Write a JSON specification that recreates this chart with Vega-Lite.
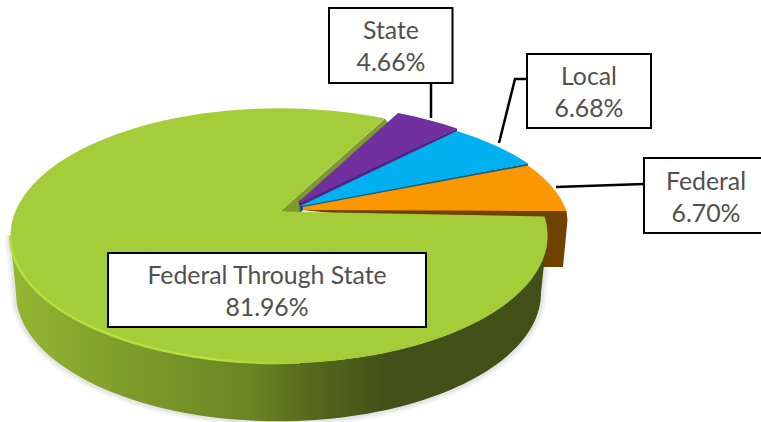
{"$schema":"https://vega.github.io/schema/vega-lite/v6.json","width":761,"height":422,"padding":0,"autosize":"none","background":"white","view":{"stroke":null},"data":{"values":[{"slice":"Federal Through State","share":81.96,"label":"Federal Through State\n81.96%"},{"slice":"State","share":4.66,"label":"State\n4.66%"},{"slice":"Local","share":6.68,"label":"Local\n6.68%"},{"slice":"Federal","share":6.70,"label":"Federal\n6.70%"}]},"resolve":{"scale":{"shape":"independent","fill":"independent"}},"layer":[
{"transform":[{"filter":"datum.slice==='Federal Through State'"}],"mark":{"type":"point","filled":true,"fill":"#000","stroke":"#000","strokeWidth":11,"opacity":0.04,"size":4},"encoding":{"shape":{"value":"M-370.5,24.5A268.5,127.5 0 0 0 166.5,24.5L160.5,82A262,128 0 0 1 -364.5,82Z"}}},
{"transform":[{"filter":"datum.slice==='Federal Through State'"}],"mark":{"type":"point","filled":true,"fill":"#000","stroke":"#000","strokeWidth":6,"opacity":0.05,"size":4},"encoding":{"shape":{"value":"M-370.5,24.5A268.5,127.5 0 0 0 166.5,24.5L160.5,82A262,128 0 0 1 -364.5,82Z"}}},
{"mark":{"type":"point","filled":true,"opacity":1,"size":4,"strokeWidth":0},"encoding":{"shape":{"field":"slice","type":"nominal","legend":null,"scale":{"domain":["Federal Through State","State","Local","Federal"],"range":["M-100.5,0.5L4.5,-92.5L8,-87.5L-81,-7L-80,2Z","M-82,-10L76.5,-82.5L76.5,-79.5L-78,-3L-80,2Z","M-80,-6L147.5,-47.5L147.5,-44.5L-76,-2L-81,2Z","M-79,-1L-77,-3L186,0L187,9L182.5,56L130,56L130,20Z"]}},"fill":{"field":"slice","type":"nominal","legend":null,"scale":{"domain":["Federal Through State","State","Local","Federal"],"range":["#7d9a2d","#4f2478","#0f5a7d","#6e4200"]}}}},
{"transform":[{"filter":"datum.slice==='Federal Through State'"}],"mark":{"type":"point","filled":true,"opacity":1,"size":4,"strokeWidth":0,"fill":{"gradient":"linear","x1":0,"y1":0,"x2":1,"y2":0,"stops":[{"offset":0,"color":"#95b732"},{"offset":0.2,"color":"#7f9f2b"},{"offset":0.45,"color":"#6a8524"},{"offset":0.56,"color":"#55691b"},{"offset":0.7,"color":"#435118"},{"offset":1,"color":"#425017"}]}},"encoding":{"shape":{"value":"M-370.5,24.5A268.5,127.5 0 0 0 166.5,24.5L160.5,82A262,128 0 0 1 -364.5,82Z"}}},
{"mark":{"type":"point","filled":true,"opacity":1,"size":4,"strokeWidth":0},"encoding":{"shape":{"field":"slice","type":"nominal","legend":null,"scale":{"domain":["Federal Through State","State","Local","Federal"],"range":["M-100.5,0.5L4,-92.5A268.5,127.5 0 1 0 164,5.5Z","M-82,-9L17.5,-98A282,122 0 0 1 76.5,-82.5L-80.5,-8Z","M-79.5,-5.5L76.5,-80A282,122 0 0 1 147.5,-47.5L-78,-5Z","M-77.5,-4L147.5,-45.5A282,122 0 0 1 186,0L-77.5,-1Z"]}},"fill":{"field":"slice","type":"nominal","legend":null,"scale":{"domain":["Federal Through State","State","Local","Federal"],"range":["#a4cd39","#7030a0","#00b0f0","#fb9700"]}}}},
{"transform":[{"filter":"datum.slice==='Federal Through State'"}],"mark":{"type":"point","filled":false,"opacity":1,"size":4,"strokeWidth":2.5,"stroke":{"gradient":"linear","x1":0,"y1":0,"x2":1,"y2":0,"stops":[{"offset":0,"color":"#b4e03c"},{"offset":0.7,"color":"#b8e040"},{"offset":1,"color":"#a4cd39"}]}},"encoding":{"shape":{"value":"M-370.5,24.5A268.5,127.5 0 0 0 -80.5,151.6"}}},
{"transform":[{"filter":"datum.slice!=='Federal Through State'"}],"mark":{"type":"point","filled":false,"opacity":1,"size":4,"stroke":"#000","strokeWidth":2.5},"encoding":{"shape":{"field":"slice","type":"nominal","legend":null,"scale":{"domain":["State","Local","Federal"],"range":["M50.5,-128L50.5,-93","M146.5,-132L134.5,-132L118.5,-68","M175.5,-24L263.5,-27"]}}}},
{"mark":{"type":"point","filled":true,"opacity":1,"size":4,"fill":"#fff","stroke":"#000","strokeWidth":2},"encoding":{"shape":{"field":"slice","type":"nominal","legend":null,"scale":{"domain":["Federal Through State","State","Local","Federal"],"range":["M-272.5,42H45.5V116H-272.5Z","M-51.5,-203H72V-128H-51.5Z","M146.5,-157H270.5V-83H146.5Z","M263.5,-53H394.5V22H263.5Z"]}}}},
{"mark":{"type":"text","font":"Lato","fontSize":24.8,"lineBreak":"\n","lineHeight":32,"align":"center","baseline":"middle","color":"#505050"},"encoding":{"text":{"field":"label","type":"nominal"},"x":{"field":"share","type":"quantitative","axis":null,"scale":{"domain":[4.66,6.68,6.70,81.96],"range":[391,589,706,267],"zero":false,"nice":false}},"y":{"field":"share","type":"quantitative","axis":null,"scale":{"domain":[4.66,6.68,6.70,81.96],"range":[32,77.5,182.5,276.5],"zero":false,"nice":false}}}}
]}
